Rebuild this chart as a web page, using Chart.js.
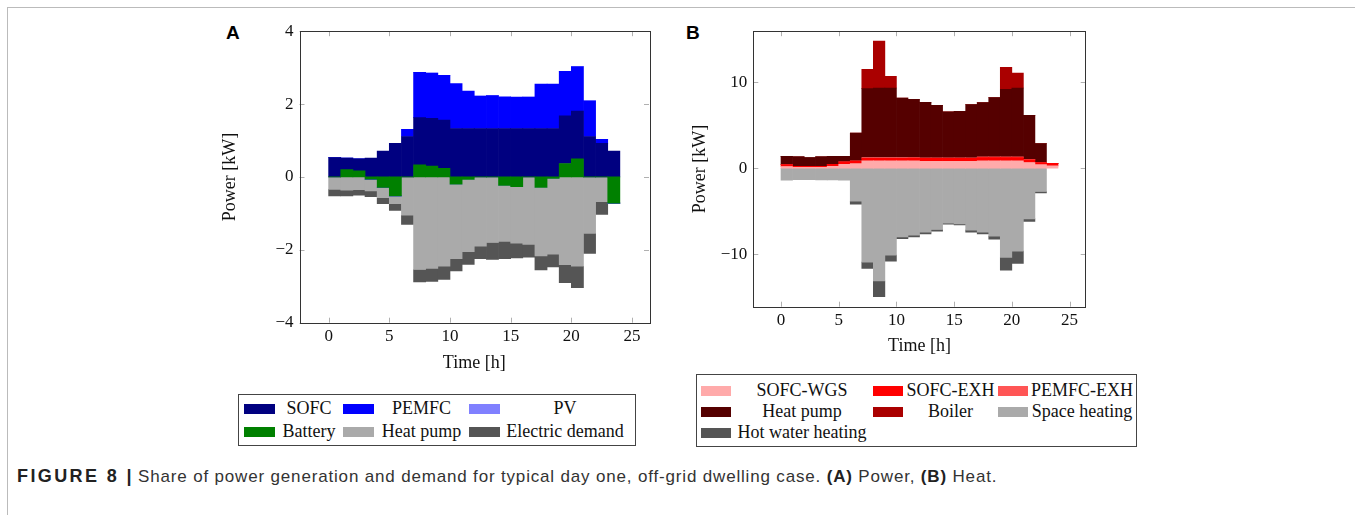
<!DOCTYPE html>
<html>
<head>
<meta charset="utf-8">
<script src="https://cdn.jsdelivr.net/npm/chart.js@4.4.1/dist/chart.umd.min.js"></script>
<style>
  body { margin: 0; width: 1355px; height: 515px; background: #fff; position: relative; overflow: hidden; font-family: "Liberation Serif", serif; }
  #frame { position: absolute; left: 7px; top: 7px; right: 0; bottom: 0; border-left: 1px solid #bbb; border-top: 1px solid #bbb; }
  canvas { position: absolute; }
  .panel { position: absolute; font: bold 19px "Liberation Sans", Arial, sans-serif; }
  .legend { position: absolute; border: 1px solid #444; font-size: 18px; display: grid; align-items: center; box-sizing: border-box; color: #111; }
  .legend .sw { height: 10px; }
  .legend .tx { text-align: center; white-space: nowrap; }
  #caption { position: absolute; left: 17px; top: 466px; font: 17px "Liberation Sans", Arial, sans-serif; letter-spacing: 0.83px; color: #333; white-space: nowrap; }
  #caption b { color: #222; }
  #caption .fig { font-size: 18px; letter-spacing: 2.4px; margin-right: 4px; }
</style>
</head>
<body>
<div id="frame"></div>
<div class="panel" style="left:226px;top:22px">A</div>
<div class="panel" style="left:686px;top:22px">B</div>
<canvas id="chartA" width="460" height="365" style="left:200px;top:15px"></canvas>
<canvas id="chartB" width="420" height="350" style="left:680px;top:15px"></canvas>
<div id="legendA" class="legend" style="left:238px;top:394px;width:398px;height:52px;padding:2px 0 2px 5px;grid-template-columns:31px 68px 31px 95px 31px 130px;"></div>
<div id="legendB" class="legend" style="left:696px;top:374px;width:441px;height:73px;padding:5px 0 5px 4px;grid-template-columns:30px 142px 30px 95px 30px 108px;"></div>
<div id="caption"><b class="fig">FIGURE 8 |</b>Share of power generation and demand for typical day one, off-grid dwelling case. <b>(A)</b> Power, <b>(B)</b> Heat.</div>

<script>
// hour of day, each bar covers [h, h+1]
const hours = [0, 1, 2, 3, 4, 5, 6, 7, 8, 9, 10, 11, 12, 13, 14, 15, 16, 17, 18, 19, 20, 21, 22, 23];
const xTicks = [0, 5, 10, 15, 20, 25];

// (A) power [kW]
const sofc = [0.53, 0.32, 0.33, 0.52, 0.71, 0.92, 1.11, 1.30, 1.31, 1.32, 1.33, 1.33, 1.33, 1.33, 1.33, 1.33, 1.33, 1.33, 1.33, 1.31, 1.31, 1.11, 0.92, 0.71];
const pemfc = [0, 0, 0, 0, 0, 0, 0.20, 1.24, 1.24, 1.23, 1.23, 1.03, 0.89, 0.90, 0.87, 0.86, 0.86, 1.22, 1.22, 1.22, 1.22, 0.98, 0.11, 0];
const pv = [0, 0, 0, 0, 0, 0, 0, 0, 0, 0, 0, 0, 0, 0, 0, 0, 0, 0, 0, 0, 0, 0, 0, 0];
const battery = [0, 0.20, 0.17, -0.06, -0.29, -0.52, 0, 0.33, 0.30, 0.24, -0.20, -0.07, 0, 0, -0.23, -0.27, 0, -0.29, -0.04, 0.37, 0.50, 0, 0, -0.72];
const heatPumpEl = [-0.34, -0.36, -0.35, -0.32, -0.28, -0.21, -1.05, -2.54, -2.51, -2.45, -2.04, -1.98, -1.90, -1.80, -1.54, -1.55, -1.85, -1.88, -2.08, -2.41, -2.45, -1.55, -0.68, 0];
const elDemand = [-0.18, -0.16, -0.15, -0.16, -0.16, -0.19, -0.25, -0.34, -0.36, -0.36, -0.34, -0.35, -0.34, -0.46, -0.47, -0.40, -0.35, -0.38, -0.35, -0.49, -0.59, -0.55, -0.35, 0];
const yTicksA = [-4, -2, 0, 2, 4];

// (B) heat [kW]
const sofcWgs = [0.20, 0.10, 0.10, 0.10, 0.23, 0.46, 0.54, 0.85, 0.85, 0.85, 0.85, 0.85, 0.81, 0.81, 0.81, 0.81, 0.81, 0.85, 0.85, 0.85, 0.85, 0.66, 0.42, 0.27];
const sofcExh = [0.22, 0.13, 0.13, 0.13, 0.23, 0.27, 0.29, 0.31, 0.31, 0.31, 0.31, 0.32, 0.33, 0.33, 0.33, 0.33, 0.33, 0.37, 0.37, 0.37, 0.37, 0.31, 0.23, 0.31];
const pemfcExh = [0, 0, 0, 0, 0, 0, 0.02, 0.08, 0.08, 0.08, 0.08, 0.07, 0.06, 0.06, 0.06, 0.06, 0.06, 0.09, 0.09, 0.09, 0.09, 0.07, 0.01, 0];
const heatPumpTh = [0.97, 1.08, 1.01, 1.08, 0.93, 0.66, 3.24, 7.99, 8.07, 8.07, 6.91, 6.76, 6.45, 6.10, 5.33, 5.40, 6.18, 6.30, 6.88, 7.84, 8.00, 5.10, 2.20, 0];
const boiler = [0, 0, 0, 0, 0, 0, 0, 2.24, 5.45, 1.35, 0, 0, 0, 0, 0, 0, 0, 0, 0, 2.55, 1.74, 0, 0, 0];
const spaceHeating = [-1.39, -1.33, -1.33, -1.35, -1.37, -1.39, -3.82, -10.89, -13.09, -10.08, -7.96, -7.76, -7.42, -7.11, -6.37, -6.45, -7.18, -7.42, -7.88, -10.35, -9.62, -5.87, -2.70, 0];
const hotWater = [0, 0, 0, 0, 0, 0, -0.35, -0.74, -1.82, -0.70, -0.23, -0.20, -0.19, -0.19, -0.12, -0.12, -0.24, -0.19, -0.35, -1.47, -1.43, -0.31, -0.16, 0];
const yTicksB = [-10, 0, 10];

const tickFont = { family: "'Liberation Serif', serif", size: 17 };
const titleFont = { family: "'Liberation Serif', serif", size: 18 };

function series(label, values, color) {
  return {
    label: label,
    data: hours.map((h, i) => ({ x: h + 0.5, y: values[i] })),
    backgroundColor: color,
    borderWidth: 0,
    barPercentage: 1,
    categoryPercentage: 1
  };
}

const fmt = v => (v < 0 ? "\u2212" + Math.abs(v) : String(v));

// pgfplots style box with inner tick marks on all four sides
const boxPlugin = {
  id: "box",
  afterDatasetsDraw(chart) {
    const { ctx, chartArea: a, scales: { x, y } } = chart;
    ctx.save();
    ctx.strokeStyle = "#b0b0b0";
    ctx.lineWidth = 1;
    ctx.beginPath();
    x.ticks.forEach(t => {
      const px = Math.round(x.getPixelForValue(t.value)) + 0.5;
      ctx.moveTo(px, a.top); ctx.lineTo(px, a.top + 5);
      ctx.moveTo(px, a.bottom); ctx.lineTo(px, a.bottom - 5);
    });
    y.ticks.forEach(t => {
      const py = Math.round(y.getPixelForValue(t.value)) + 0.5;
      ctx.moveTo(a.left, py); ctx.lineTo(a.left + 5, py);
      ctx.moveTo(a.right, py); ctx.lineTo(a.right - 5, py);
    });
    ctx.stroke();
    ctx.strokeStyle = "#333";
    ctx.strokeRect(Math.round(a.left) + 0.5, Math.round(a.top) + 0.5, Math.round(a.right - a.left), Math.round(a.bottom - a.top));
    ctx.restore();
  }
};

function makeChart(id, datasets, yMin, yMax, yTicks, o) {
  return new Chart(document.getElementById(id), {
    type: "bar",
    data: { datasets: datasets },
    plugins: [boxPlugin],
    options: {
      responsive: false,
      animation: false,
      layout: { padding: o.pad },
      plugins: { legend: { display: false }, tooltip: { enabled: false } },
      scales: {
        x: {
          type: "linear",
          stacked: true,
          offset: false,
          min: -2.4,
          max: 26.4,
          grid: { display: false, drawTicks: false },
          border: { display: false },
          afterBuildTicks: s => { s.ticks = xTicks.map(v => ({ value: v })); },
          afterFit: s => { s.height = o.xH; },
          ticks: { font: tickFont, color: "#111", padding: 4, maxRotation: 0, callback: fmt },
          title: { display: true, text: "Time [h]", font: titleFont, color: "#111", padding: { top: 0, bottom: o.xTitlePad } }
        },
        y: {
          stacked: true,
          min: yMin,
          max: yMax,
          grid: { display: false, drawTicks: false },
          border: { display: false },
          afterBuildTicks: s => { s.ticks = yTicks.map(v => ({ value: v })); },
          afterFit: s => { s.width = o.yW; },
          ticks: { font: tickFont, color: "#111", padding: 6, callback: fmt },
          title: { display: true, text: "Power [kW]", font: titleFont, color: "#111", padding: { top: o.yTitlePad, bottom: 0 } }
        }
      }
    }
  });
}

const dsA = [
  series("SOFC", sofc, "#000080"),
  series("PEMFC", pemfc, "#0000ff"),
  series("PV", pv, "#8080ff"),
  series("Battery", battery, "#008000"),
  series("Heat pump", heatPumpEl, "#aaaaaa"),
  series("Electric demand", elDemand, "#555555")
];
// stack order bottom-up: battery first on both sides of zero
dsA.forEach((d, i) => { d.order = i; });
dsA[3].order = -1;

const dsB = [
  series("SOFC-WGS", sofcWgs, "#ffaaaa"),
  series("SOFC-EXH", sofcExh, "#ff0000"),
  series("PEMFC-EXH", pemfcExh, "#ff5555"),
  series("Heat pump", heatPumpTh, "#550000"),
  series("Boiler", boiler, "#aa0000"),
  series("Space heating", spaceHeating, "#aaaaaa"),
  series("Hot water heating", hotWater, "#555555")
];

makeChart("chartA", dsA, -4, 4, yTicksA, { pad: { top: 16, right: 11, left: 0, bottom: 0 }, xH: 57.3, yW: 99.5, xTitlePad: 6.2, yTitlePad: 19.9 });
makeChart("chartB", dsB, -16.07, 15.9, yTicksB, { pad: { top: 15.7, right: 14.3, left: 0, bottom: 0 }, xH: 58.3, yW: 73.3, xTitlePad: 8.2, yTitlePad: 9.2 });

// legends as text, built from the datasets
function buildLegend(id, datasets) {
  const box = document.getElementById(id);
  datasets.forEach(d => {
    const sw = document.createElement("div");
    sw.className = "sw";
    sw.style.background = d.backgroundColor;
    const tx = document.createElement("div");
    tx.className = "tx";
    tx.textContent = d.label;
    box.appendChild(sw);
    box.appendChild(tx);
  });
}
buildLegend("legendA", dsA);
buildLegend("legendB", dsB);
</script>
</body>
</html>
